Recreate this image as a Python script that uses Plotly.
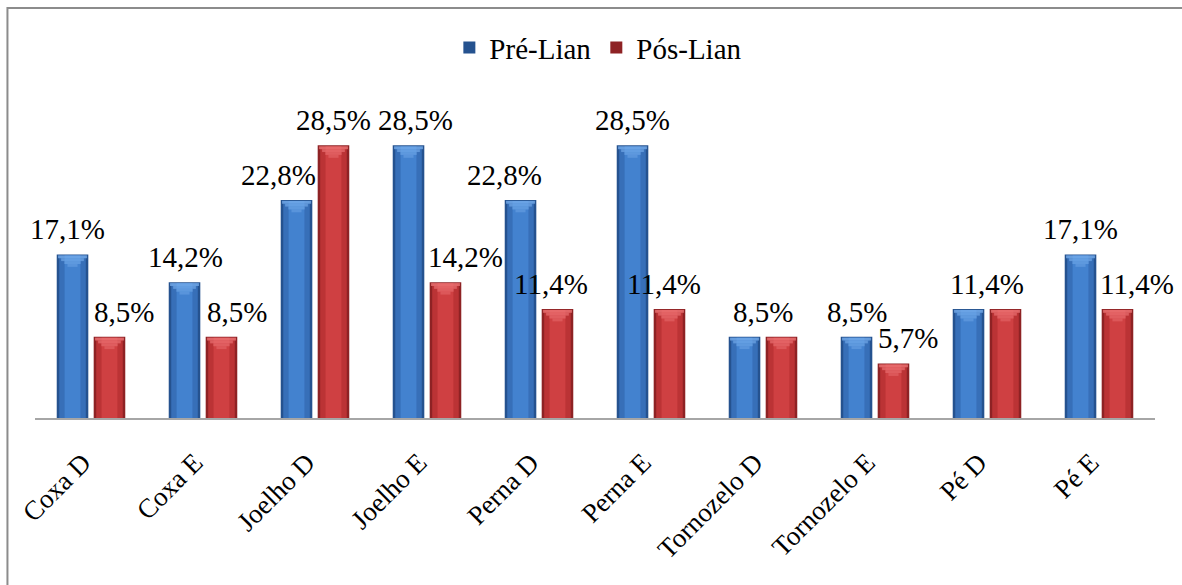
import plotly.graph_objects as go

# Categories and percentages per period
categorias = ["Coxa D", "Coxa E", "Joelho D", "Joelho E", "Perna D",
              "Perna E", "Tornozelo D", "Tornozelo E", "Pé D", "Pé E"]
pre_lian = [17.1, 14.2, 22.8, 28.5, 22.8, 28.5, 8.5, 8.5, 11.4, 17.1]
pos_lian = [8.5, 8.5, 28.5, 14.2, 11.4, 11.4, 8.5, 5.7, 11.4, 11.4]

# horizontal nudges (px) applied to the value labels of each series
nudge_pre = [-5, 1, -18, 7, -16, 0, 0, 0, 0, 0]
nudge_pos = [15, 16, 0, 20, -6, -5, 0, 15, 0, 20]

FONT = "Liberation Serif, Times New Roman, serif"
LABEL_SIZE = 29
BAR_W = 0.282      # bar width in category units
GAP = 0.048        # gap between the two bars of a group
CAT_PX = 112       # pixel width of one category slot

# (name, values, offset of left edge, palette: edge, body, centre, top bevel)
series = [
    ("Pré-Lian", pre_lian, -GAP / 2 - BAR_W,
     ("#25528f", "#376fb8", "#4382cf", "#7ab0ee")),
    ("Pós-Lian", pos_lian, GAP / 2,
     ("#8e2224", "#bb3335", "#cf4042", "#f07a7c")),
]


def pct(v):
    return f"{v:.1f}".replace(".", ",") + "%"


fig = go.Figure()

for name, vals, off, (edge, body, centre, bevel) in series:
    # outer bar carrying the legend entry
    fig.add_trace(go.Bar(
        x=categorias, y=vals, name=name, width=BAR_W, offset=off,
        marker=dict(color=edge, line=dict(width=0)),
        showlegend=True, legendgroup=name,
    ))
    # inner shading layers give a bevelled, rounded look
    for frac, col in ((0.84, body), (0.5, centre)):
        w = BAR_W * frac
        fig.add_trace(go.Bar(
            x=categorias, y=[v - 0.12 for v in vals], base=0.0,
            width=w, offset=off + (BAR_W - w) / 2,
            marker=dict(color=col, line=dict(width=0)),
            showlegend=False, legendgroup=name, hoverinfo="skip",
        ))
    # lighter top bevel: stacked strips narrowing downward
    for i, frac in enumerate((0.92, 0.72, 0.52, 0.32)):
        w = BAR_W * frac
        h = 0.3
        fig.add_trace(go.Bar(
            x=categorias, y=[h] * len(vals),
            base=[v - 0.1 - h * (i + 1) for v in vals],
            width=w, offset=off + (BAR_W - w) / 2,
            marker=dict(color=bevel, opacity=0.7 - 0.1 * i, line=dict(width=0)),
            showlegend=False, legendgroup=name, hoverinfo="skip",
        ))

# value labels: one per bar, or a single centred one when both bars are equal
bar_centre_px = (GAP / 2 + BAR_W / 2) * CAT_PX
annotations = []
for cat, a, b, na, nb in zip(categorias, pre_lian, pos_lian, nudge_pre, nudge_pos):
    if a == b:
        placements = [(a, 0.0)]
    else:
        placements = [(a, -bar_centre_px + na), (b, bar_centre_px + nb)]
    for v, dx in placements:
        annotations.append(dict(
            x=cat, y=v, xref="x", yref="y", text=pct(v), showarrow=False,
            xanchor="center", yanchor="bottom", xshift=dx, yshift=7,
            font=dict(family=FONT, size=LABEL_SIZE, color="black"),
        ))

fig.update_layout(
    width=1182, height=585,
    margin=dict(l=35, r=27, t=131, b=167),
    barmode="overlay",
    paper_bgcolor="white", plot_bgcolor="white",
    font=dict(family=FONT, size=27, color="black"),
    showlegend=True,
    legend=dict(
        orientation="h", x=0.503, xanchor="center", y=1.29, yanchor="middle",
        font=dict(family=FONT, size=29), itemwidth=30,
        bgcolor="rgba(0,0,0,0)", traceorder="normal",
    ),
    xaxis=dict(
        type="category", showgrid=False, ticks="", tickangle=-45,
        showline=True, linecolor="#a6a6a6", linewidth=2,
        tickfont=dict(family=FONT, size=27), ticklabelstandoff=16,
        ticklabelshift=-8,
        range=[-0.5, len(categorias) - 0.5],
    ),
    yaxis=dict(range=[0, 30], visible=False, showgrid=False, zeroline=False),
    annotations=annotations,
    shapes=[dict(
        type="rect", xref="paper", yref="paper",
        x0=-0.0246, x1=1.2, y0=-0.8, y1=1.4286,
        line=dict(color="#8c8c8c", width=2), fillcolor="rgba(0,0,0,0)",
        layer="below",
    )],
)

fig.write_html("out.html")
